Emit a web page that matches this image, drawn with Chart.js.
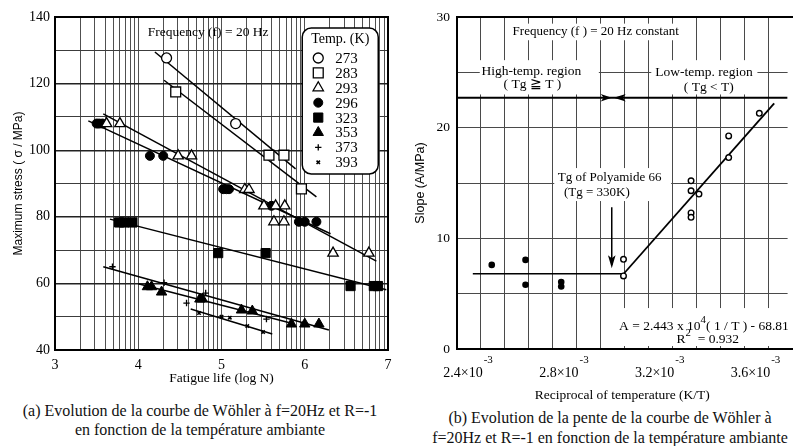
<!DOCTYPE html>
<html lang="fr">
<head>
<meta charset="UTF-8">
<title>Courbes de Wöhler - PA66</title>
<script src="https://cdn.jsdelivr.net/npm/chart.js"></script>
<style>
  body { margin: 0; background: #fff; }
  #page { position: relative; width: 793px; height: 446px; overflow: hidden; background: #fff; }
  canvas { position: absolute; top: 0; }
  .cap {
    position: absolute; text-align: center; white-space: nowrap; color: #111;
    font-family: "Liberation Serif", "Times New Roman", serif; font-size: 16px;
  }
</style>
</head>
<body>
<div id="page">
  <canvas id="wohler" width="400" height="395" style="left:0"></canvas>
  <canvas id="pente" width="393" height="405" style="left:400px"></canvas>
  <div class="cap" style="left:0;width:400px;top:401px;line-height:19px">(a) Evolution de la courbe de Wöhler à f=20Hz et R=-1<br>en fonction de la température ambiante</div>
  <div class="cap" style="left:430px;width:360px;top:408px;line-height:20px">(b) Evolution de la pente de la courbe de Wöhler à<br>f=20Hz et R=-1 en fonction de la température ambiante</div>
</div>
<script>
const serif = '"Liberation Serif", "Times New Roman", serif';
const sans = '"Liberation Sans", Arial, sans-serif';

// ---- (a) Wöhler curves: [log N, stress MPa]
const tempsK = [273, 283, 293, 296, 323, 353, 373, 393];
const lifeTicks = [3, 4, 5, 6, 7];
const stressTicks = [40, 60, 80, 100, 120, 140];

const pts273 = [[4.34, 127.7], [5.17, 108.0]];
const pts283 = [[4.45, 117.5], [5.57, 98.5], [5.75, 98.5], [5.96, 88.4]];
const pts293 = [[3.62, 108.0], [3.78, 108.0], [4.48, 98.3], [4.64, 98.3], [5.28, 88.2], [5.33, 88.2],
                [5.51, 83.3], [5.65, 83.3], [5.76, 83.3], [5.63, 78.5], [5.75, 78.5], [6.34, 69.1], [6.77, 69.1]];
const pts296 = [[3.50, 108.0], [3.53, 108.0], [3.57, 108.0], [4.14, 98.3], [4.30, 98.3], [5.02, 88.3],
                [5.06, 88.3], [5.09, 88.3], [5.60, 83.3], [5.93, 78.5], [6.00, 78.5], [6.14, 78.5]];
const pts323 = [[3.77, 78.3], [3.83, 78.3], [3.93, 78.3], [4.96, 69.1], [5.53, 69.1], [6.55, 59.2], [6.83, 59.2], [6.88, 59.2]];
const pts353 = [[4.11, 59.0], [4.16, 59.0], [4.28, 57.4], [4.74, 55.3], [4.77, 55.3], [5.24, 52.0],
                [5.37, 51.7], [5.84, 47.8], [6.00, 47.8], [6.17, 47.8]];
const pts373 = [[3.69, 65.0], [4.31, 60.2], [4.58, 54.1], [4.81, 57.1], [5.54, 49.3]];
const pts393 = [[4.73, 51.1], [5.00, 50.0], [5.10, 49.7], [5.31, 47.2], [5.50, 45.4]];

const fit273 = [[4.20, 129.5], [5.89, 94.4]];
const fit283 = [[4.31, 121.0], [6.14, 86.0]];
const fit293 = [[3.58, 110.9], [6.86, 66.7]];
const fit296 = [[3.40, 108.8], [6.31, 74.9]];
const fit323 = [[3.66, 79.3], [6.98, 58.1]];
const fit353 = [[3.58, 65.0], [6.29, 46.0]];
const fit373 = [[4.00, 59.9], [5.83, 48.1]];
const fit393 = [[4.63, 52.3], [5.61, 44.8]];

const wohlerPts = [pts273, pts283, pts293, pts296, pts323, pts353, pts373, pts393];
const wohlerFits = [fit273, fit283, fit293, fit296, fit323, fit353, fit373, fit393];

// marker look per temperature
const markStyle = ['circle', 'rect', 'triangle', 'circle', 'rect', 'triangle', 'cross', 'crossRot'];
const markFill = ['#fff', '#fff', '#fff', '#000', '#000', '#000', '#000', '#000'];
const markSize = [5, 7, 6, 4.5, 6.5, 6, 3.2, 2.4];
const markLine = [1.3, 1.3, 1.3, 1, 1, 1, 1.3, 1.6];

// ---- (b) slope vs 1/T
const recipTickValues = [2.4e-3, 2.8e-3, 3.2e-3, 3.6e-3];
const recipTickLabels = ['2.4×10', '2.8×10', '3.2×10', '3.6×10'];
const slopeTicks = [0, 10, 20, 30];

const recipOpen = [3.662e-3, 3.534e-3, 3.534e-3, 3.377e-3, 3.377e-3, 3.410e-3, 3.377e-3, 3.377e-3, 3.095e-3, 3.095e-3];
const slopeOpen = [21.3, 19.25, 17.3, 15.2, 14.3, 14.0, 12.3, 11.9, 8.1, 6.6];
const recipFilled = [2.545e-3, 2.686e-3, 2.686e-3, 2.835e-3, 2.835e-3];
const slopeFilled = [7.6, 8.05, 5.8, 6.05, 5.65];

const plateauLine = [[2.466e-3, 6.8], [3.096e-3, 6.8]];
const slopeFitLine = [[3.096e-3, 6.8], [3.724e-3, 22.2]];
const regionLine = [[2.4e-3, 22.7], [3.78e-3, 22.7]];
const tgArrow = [[3.046e-3, 12.8], [3.046e-3, 7.6]];

const xy = arr => arr.map(p => ({x: p[0], y: p[1]}));

function drawMark(ctx, i, x, y) {
    ctx.save();
    ctx.fillStyle = markFill[i];
    ctx.strokeStyle = '#000';
    ctx.lineWidth = markLine[i];
    Chart.helpers.drawPoint(ctx, {pointStyle: markStyle[i], radius: markSize[i], borderWidth: markLine[i], rotation: 0}, x, y);
    ctx.restore();
}

// text with superscript parts: [[text, isSup], ...]
function drawSup(ctx, parts, x, y, size, align) {
    const widths = parts.map(p => {
        ctx.font = (p[1] ? size * 0.8 : size) + 'px ' + serif;
        return ctx.measureText(p[0]).width;
    });
    const total = widths.reduce((a, b) => a + b, 0);
    let cx = align === 'center' ? x - total / 2 : (align === 'right' ? x - total : x);
    ctx.textAlign = 'left';
    ctx.textBaseline = 'alphabetic';
    parts.forEach((p, k) => {
        ctx.font = (p[1] ? size * 0.8 : size) + 'px ' + serif;
        ctx.fillText(p[0], cx, p[1] ? y - size * 0.55 : y);
        cx += widths[k];
    });
}

// ---------------- chart (a)
const logGrid = [];
for (let d = 3; d < 7; d++) {
    for (let k = 1; k < 10; k++) logGrid.push(d + Math.log10(k));
}
logGrid.push(7);
const isWhole = v => Math.abs(v - Math.round(v)) < 1e-6;

const wohlerDatasets = [];
wohlerFits.forEach((f, i) => {
    wohlerDatasets.push({
        type: 'line', data: xy(f), borderColor: '#000', borderWidth: 1.5,
        pointRadius: 0, fill: false, order: 2
    });
});
wohlerPts.forEach((p, i) => {
    wohlerDatasets.push({
        label: tempsK[i] + ' K', data: xy(p), showLine: false,
        pointStyle: markStyle[i], pointRadius: markSize[i],
        pointBackgroundColor: markFill[i], pointBorderColor: '#000',
        pointBorderWidth: markLine[i], order: 1
    });
});

const wohlerDecor = {
    id: 'wohlerDecor',
    afterDraw(chart) {
        const {ctx, chartArea: a, scales: {x, y}} = chart;
        ctx.save();
        ctx.strokeStyle = '#000';
        ctx.lineWidth = 2;
        ctx.strokeRect(a.left, a.top, a.right - a.left, a.bottom - a.top);

        ctx.fillStyle = '#000';
        ctx.textAlign = 'center';
        ctx.textBaseline = 'middle';
        ctx.font = '13.5px ' + serif;
        ctx.fillText('Frequency (f) = 20 Hz', x.getPixelForValue(4.84), y.getPixelForValue(135.5));

        // legend box
        const bx = x.getPixelForValue(5.97), by = y.getPixelForValue(136.7);
        const bw = 76, bh = 146;
        ctx.beginPath();
        ctx.roundRect(bx, by, bw, bh, 9);
        ctx.fillStyle = '#fff';
        ctx.fill();
        ctx.lineWidth = 1.5;
        ctx.stroke();
        ctx.fillStyle = '#000';
        ctx.font = '14px ' + serif;
        ctx.fillText('Temp. (K)', bx + 38, by + 11);
        tempsK.forEach((t, i) => {
            const cy = by + 30 + i * 14.9;
            drawMark(ctx, i, bx + 16, cy);
            ctx.fillStyle = '#000';
            ctx.textAlign = 'left';
            ctx.font = '15px ' + serif;
            ctx.fillText(String(t), bx + 33, cy + 1);
        });
        ctx.restore();
    }
};

new Chart(document.getElementById('wohler'), {
    type: 'scatter',
    data: {datasets: wohlerDatasets},
    options: {
        responsive: false,
        animation: false,
        events: [],
        layout: {padding: {left: 0, top: 17, right: 12, bottom: 0}},
        plugins: {legend: {display: false}, tooltip: {enabled: false}},
        scales: {
            x: {
                type: 'linear', min: 3, max: 7,
                afterBuildTicks: s => { s.ticks = logGrid.map(v => ({value: v})); },
                afterFit: s => { s.height = 45; },
                ticks: {
                    autoSkip: false, maxRotation: 0, padding: 7, color: '#000',
                    font: {family: serif, size: 14},
                    callback: v => (isWhole(v) && lifeTicks.includes(Math.round(v))) ? String(Math.round(v)) : ''
                },
                grid: {color: '#3c3c3c', lineWidth: 0.9, drawTicks: false},
                border: {display: false},
                title: {display: true, text: 'Fatigue life (log N)', color: '#000',
                        font: {family: serif, size: 13.5}, padding: {top: 0, bottom: 8}}
            },
            y: {
                min: 40, max: 140,
                afterFit: s => { s.width = 55; },
                ticks: {
                    stepSize: 10, padding: 5, color: '#000',
                    font: {family: serif, size: 14},
                    callback: v => stressTicks.includes(v) ? String(v) : ''
                },
                grid: {
                    drawTicks: false,
                    color: c => stressTicks.includes(c.tick.value) ? '#222' : '#3c3c3c',
                    lineWidth: c => stressTicks.includes(c.tick.value) ? 1.4 : 1
                },
                border: {display: false},
                title: {display: true, text: 'Maximum stress ( σ / MPa)', color: '#000',
                        font: {family: sans, size: 12}, padding: {top: 11, bottom: 0}}
            }
        }
    },
    plugins: [wohlerDecor]
});

// ---------------- chart (b)
const recipGrid = [];
for (let i = 0; i <= 13; i++) recipGrid.push(2.4e-3 + i * 1e-4);

// white boxes behind annotations, in data units [x1, x2, yTop, yBottom]
const penteBoxes = [
    [2.628e-3, 3.323e-3, 29.4, 27.9],
    [2.495e-3, 2.992e-3, 26.1, 23.0],
    [3.211e-3, 3.654e-3, 26.1, 23.0],
    [2.806e-3, 3.294e-3, 16.35, 13.37],
    [3.042e-3, 3.78e-3, 3.7, 0.27]
];

const penteDecor = {
    id: 'penteDecor',
    beforeDatasetsDraw(chart) {
        const {ctx, scales: {x, y}} = chart;
        ctx.save();
        ctx.fillStyle = '#fff';
        penteBoxes.forEach(b => {
            const l = x.getPixelForValue(b[0]), r = x.getPixelForValue(b[1]);
            const t = y.getPixelForValue(b[2]), bt = y.getPixelForValue(b[3]);
            ctx.fillRect(l, t, r - l, bt - t);
        });
        ctx.restore();
    },
    afterDraw(chart) {
        const {ctx, chartArea: a, scales: {x, y}} = chart;
        ctx.save();
        // frame (open on the right)
        ctx.strokeStyle = '#000';
        ctx.lineWidth = 2;
        ctx.beginPath();
        ctx.moveTo(chart.width, a.top);
        ctx.lineTo(a.left, a.top);
        ctx.lineTo(a.left, a.bottom);
        ctx.lineTo(chart.width, a.bottom);
        ctx.stroke();

        // x tick labels with exponent
        ctx.fillStyle = '#000';
        recipTickValues.forEach((v, i) => {
            const px = x.getPixelForValue(v);
            ctx.font = '14px ' + serif;
            ctx.textAlign = 'center';
            ctx.textBaseline = 'middle';
            ctx.fillText(recipTickLabels[i], px + 6, a.bottom + 24);
            const w = ctx.measureText(recipTickLabels[i]).width;
            ctx.font = '11px ' + serif;
            ctx.textAlign = 'left';
            ctx.fillText('-3', px + 6 + w / 2 + 1, a.bottom + 11);
        });

        // arrowheads on the region line
        const ty = y.getPixelForValue(regionLine[0][1]);
        const tx = x.getPixelForValue(3.05e-3);
        ctx.beginPath();
        ctx.moveTo(tx - 1, ty); ctx.lineTo(tx - 12, ty - 3.8); ctx.lineTo(tx - 9, ty); ctx.lineTo(tx - 12, ty + 3.8); ctx.closePath();
        ctx.moveTo(tx + 1, ty); ctx.lineTo(tx + 13, ty - 3.8); ctx.lineTo(tx + 10, ty); ctx.lineTo(tx + 13, ty + 3.8); ctx.closePath();
        ctx.fill();

        // Tg arrowhead
        const ax = x.getPixelForValue(tgArrow[1][0]);
        const ay = y.getPixelForValue(7.3);
        ctx.beginPath();
        ctx.moveTo(ax, ay); ctx.lineTo(ax - 3.8, ay - 13); ctx.lineTo(ax, ay - 10); ctx.lineTo(ax + 3.8, ay - 13); ctx.closePath();
        ctx.fill();

        // annotations
        ctx.textAlign = 'center';
        ctx.textBaseline = 'middle';
        const put = (txt, vx, vy, size) => {
            ctx.font = size + 'px ' + serif;
            ctx.fillText(txt, x.getPixelForValue(vx), y.getPixelForValue(vy));
        };
        put('Frequency (f ) = 20 Hz constant', 2.979e-3, 28.64, 13);
        put('High-temp. region', 2.71e-3, 25.1, 13.5);
        put('( Tg ≧ T )', 2.715e-3, 23.9, 13.5);
        put('Low-temp. region', 3.431e-3, 25.0, 13.5);
        put('( Tg < T)', 3.451e-3, 23.6, 13.5);
        put('Tg of Polyamide 66', 3.037e-3, 15.5, 13);
        put('(Tg = 330K)', 2.984e-3, 14.1, 13);

        drawSup(ctx, [['A = 2.443 x 10', false], ['4', true], ['( 1 / T ) - 68.81', false]],
                x.getPixelForValue(3.431e-3), y.getPixelForValue(2.17) + 5, 13.5, 'center');
        drawSup(ctx, [['R', false], ['2', true], ['  = 0.932', false]],
                x.getPixelForValue(3.447e-3), y.getPixelForValue(1.0) + 5, 13.5, 'center');
        ctx.restore();
    }
};

new Chart(document.getElementById('pente'), {
    type: 'scatter',
    data: {
        datasets: [
            {type: 'line', data: xy(regionLine), borderColor: '#000', borderWidth: 2, pointRadius: 0, order: 2},
            {type: 'line', data: xy(plateauLine), borderColor: '#000', borderWidth: 1.6, pointRadius: 0, order: 2},
            {type: 'line', data: xy(slopeFitLine), borderColor: '#000', borderWidth: 1.8, pointRadius: 0, order: 2},
            {type: 'line', data: xy(tgArrow), borderColor: '#000', borderWidth: 1.5, pointRadius: 0, order: 2},
            {
                label: 'T < Tg', data: recipOpen.map((v, i) => ({x: v, y: slopeOpen[i]})),
                pointStyle: 'circle', pointRadius: 2.8, pointBackgroundColor: '#fff',
                pointBorderColor: '#000', pointBorderWidth: 1.4, order: 1
            },
            {
                label: 'T > Tg', data: recipFilled.map((v, i) => ({x: v, y: slopeFilled[i]})),
                pointStyle: 'circle', pointRadius: 3.3, pointBackgroundColor: '#000',
                pointBorderColor: '#000', pointBorderWidth: 0, order: 1
            }
        ]
    },
    options: {
        responsive: false,
        animation: false,
        events: [],
        layout: {padding: {left: 0, top: 17, right: 3, bottom: 0}},
        plugins: {legend: {display: false}, tooltip: {enabled: false}},
        scales: {
            x: {
                type: 'linear', min: 2.4e-3, max: 3.78e-3,
                afterBuildTicks: s => { s.ticks = recipGrid.map(v => ({value: v})); },
                afterFit: s => { s.height = 56; },
                ticks: {display: false, autoSkip: false},
                grid: {color: '#4a4a4a', lineWidth: 1, drawTicks: false},
                border: {display: false},
                title: {display: true, text: 'Reciprocal of temperature (K/T)', color: '#000',
                        font: {family: serif, size: 13.5}, padding: {top: 0, bottom: 1}}
            },
            y: {
                min: 0, max: 30,
                afterFit: s => { s.width = 57; },
                ticks: {
                    stepSize: 5, padding: 7, color: '#000',
                    font: {family: serif, size: 13.5},
                    callback: v => slopeTicks.includes(v) ? String(v) : ''
                },
                grid: {color: '#4a4a4a', lineWidth: 1, drawTicks: false},
                border: {display: false},
                title: {display: true, text: 'Slope (A/MPa)', color: '#000',
                        font: {family: sans, size: 12.5}, padding: {top: 13, bottom: 0}}
            }
        }
    },
    plugins: [penteDecor]
});
</script>
</body>
</html>
